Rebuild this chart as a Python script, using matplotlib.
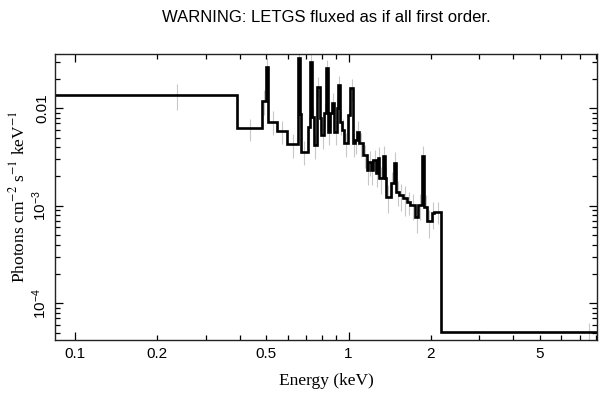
import matplotlib
matplotlib.use("Agg")
import matplotlib.pyplot as plt
import numpy as np
from matplotlib.ticker import FixedLocator, FixedFormatter, NullFormatter

# ---- data ----
edges_kev = [0.08, 0.391, 0.483, 0.4995, 0.508, 0.548, 0.596, 0.6526, 0.6636, 0.6709,
             0.7097, 0.7218, 0.7379, 0.7453, 0.7657, 0.7852, 0.794, 0.8164, 0.826, 0.8443,
             0.8565, 0.8688, 0.888, 0.9047, 0.9139, 0.9341, 0.95, 0.966, 0.9966, 1.016,
             1.039, 1.057, 1.075, 1.093, 1.131, 1.167, 1.182, 1.205, 1.23, 1.262,
             1.283, 1.294, 1.335, 1.365, 1.372, 1.428, 1.468, 1.493, 1.535, 1.588,
             1.642, 1.68, 1.753, 1.802, 1.854, 1.89, 1.934, 2.017, 2.062, 2.182, 13.0]

flux = [0.0137, 0.00624, 0.0120, 0.0267, 0.00729, 0.00585, 0.00430, 0.0326, 0.00868, 0.00359,
        0.00648, 0.0296, 0.00820, 0.00420, 0.0167, 0.00790, 0.00532, 0.00889, 0.0257, 0.00575,
        0.00889, 0.0113, 0.00575, 0.0100, 0.0173, 0.00729, 0.00599, 0.00438, 0.00854, 0.0160,
        0.00438, 0.00473, 0.00575, 0.00438, 0.00332, 0.00233, 0.00283, 0.00233, 0.00295, 0.00215,
        0.00307, 0.00191, 0.00324, 0.00193, 0.00124, 0.00170, 0.00273, 0.00140, 0.00129, 0.00119,
        0.00110, 0.00102, 0.00077, 0.00102, 0.00324, 0.00098, 0.00069, 0.00084, 0.00087, 5.1e-5]

flux_err = [0.0040, 0.0016, 0.0035, 0.0060, 0.0020, 0.0016, 0.0012, 0.0070, 0.0025, 0.0010,
            0.0018, 0.0065, 0.0022, 0.0012, 0.0040, 0.0021, 0.0015, 0.0024, 0.0055, 0.0016,
            0.0024, 0.0030, 0.0016, 0.0027, 0.0042, 0.0020, 0.0017, 0.0012, 0.0023, 0.0040,
            0.0012, 0.0013, 0.0016, 0.0012, 0.0009, 0.0007, 0.0008, 0.0007, 0.0008, 0.0006,
            0.0009, 0.0006, 0.0009, 0.0006, 0.0004, 0.0005, 0.0008, 0.0004, 0.0004, 0.0004,
            0.0003, 0.0003, 0.00024, 0.0003, 0.0009, 0.0003, 0.00022, 0.00026, 0.00022, 1.2e-5]

x_major = [0.1, 1.0]
x_major_labels = ["0.1", "1"]
x_minor_labeled = [0.2, 0.5, 2.0, 5.0]
x_minor_labels = ["0.2", "0.5", "2", "5"]
y_major = [1e-4, 1e-3, 1e-2]
y_major_labels = [r"$10^{-4}$", r"$10^{-3}$", "0.01"]

title = "WARNING: LETGS fluxed as if all first order."
xlabel = "Energy (keV)"
ylabel = r"Photons cm$^{-2}$ s$^{-1}$ keV$^{-1}$"

# ---- style ----
plt.rcParams["mathtext.fontset"] = "custom"
plt.rcParams["mathtext.rm"] = "Liberation Sans"
plt.rcParams["mathtext.it"] = "Liberation Sans:italic"
plt.rcParams["mathtext.bf"] = "Liberation Sans:bold"
plt.rcParams["font.family"] = ["Liberation Sans", "DejaVu Sans"]

W, H = 609, 399
fig = plt.figure(figsize=(W / 100, H / 100), dpi=100)
l, r, t, b = 55, 597, 54, 340
ax = fig.add_axes([l / W, 1 - b / H, (r - l) / W, (b - t) / H])

edges = np.array(edges_kev)
vals = np.array(flux)
centers = (edges[:-1] + edges[1:]) / 2

ax.errorbar(centers, vals, yerr=np.array(flux_err), fmt="none",
            ecolor="#c8c8c8", elinewidth=0.8, zorder=1)
ax.stairs(vals, edges, baseline=None, color="black", linewidth=1.9, zorder=2)

ax.set_xscale("log")
ax.set_yscale("log")
ax.set_xlim(0.0845, 8.1)
ax.set_ylim(4.2e-5, 0.036)

# x ticks
ax.xaxis.set_major_locator(FixedLocator(x_major))
ax.xaxis.set_major_formatter(FixedFormatter(x_major_labels))
minor_x = [v * d for d in (0.1, 1.0) for v in range(2, 10)]
ax.xaxis.set_minor_locator(FixedLocator(minor_x))
_minor_map = dict(zip([round(a, 3) for a in x_minor_labeled], x_minor_labels))
ax.xaxis.set_minor_formatter(matplotlib.ticker.FuncFormatter(
    lambda v, p: _minor_map.get(round(v, 3), "")))

# y ticks
ax.yaxis.set_major_locator(FixedLocator(y_major))
ax.yaxis.set_major_formatter(FixedFormatter(y_major_labels))
ax.yaxis.set_minor_locator(matplotlib.ticker.LogLocator(base=10, subs=np.arange(2, 10)))
ax.yaxis.set_minor_formatter(NullFormatter())

ax.tick_params(which="both", direction="in", top=True, right=True, width=0.9, colors="black")
ax.tick_params(which="major", length=6)
ax.tick_params(which="minor", length=3.5)
ax.tick_params(axis="x", which="both", labelsize=11, pad=5)
ax.tick_params(axis="y", which="major", labelsize=11, labelrotation=90, pad=4)
for lab in ax.get_yticklabels():
    lab.set_verticalalignment("center")

for s in ax.spines.values():
    s.set_linewidth(1.0)
    s.set_color("#222222")

fig.text((l + r) / 2 / W, 1 - 18 / H, title, ha="center", va="center",
         fontsize=12, family=["Liberation Sans"])
fig.text((l + r) / 2 / W, 1 - 381 / H, xlabel, ha="center", va="center",
         fontsize=12.5, family=["Liberation Serif"])
fig.text(18 / W, 1 - ((t + b) / 2) / H, ylabel, ha="center", va="center",
         rotation=90, fontsize=12.5, family=["Liberation Serif"], math_fontfamily="stix")

fig.savefig("out.png", dpi=100)
